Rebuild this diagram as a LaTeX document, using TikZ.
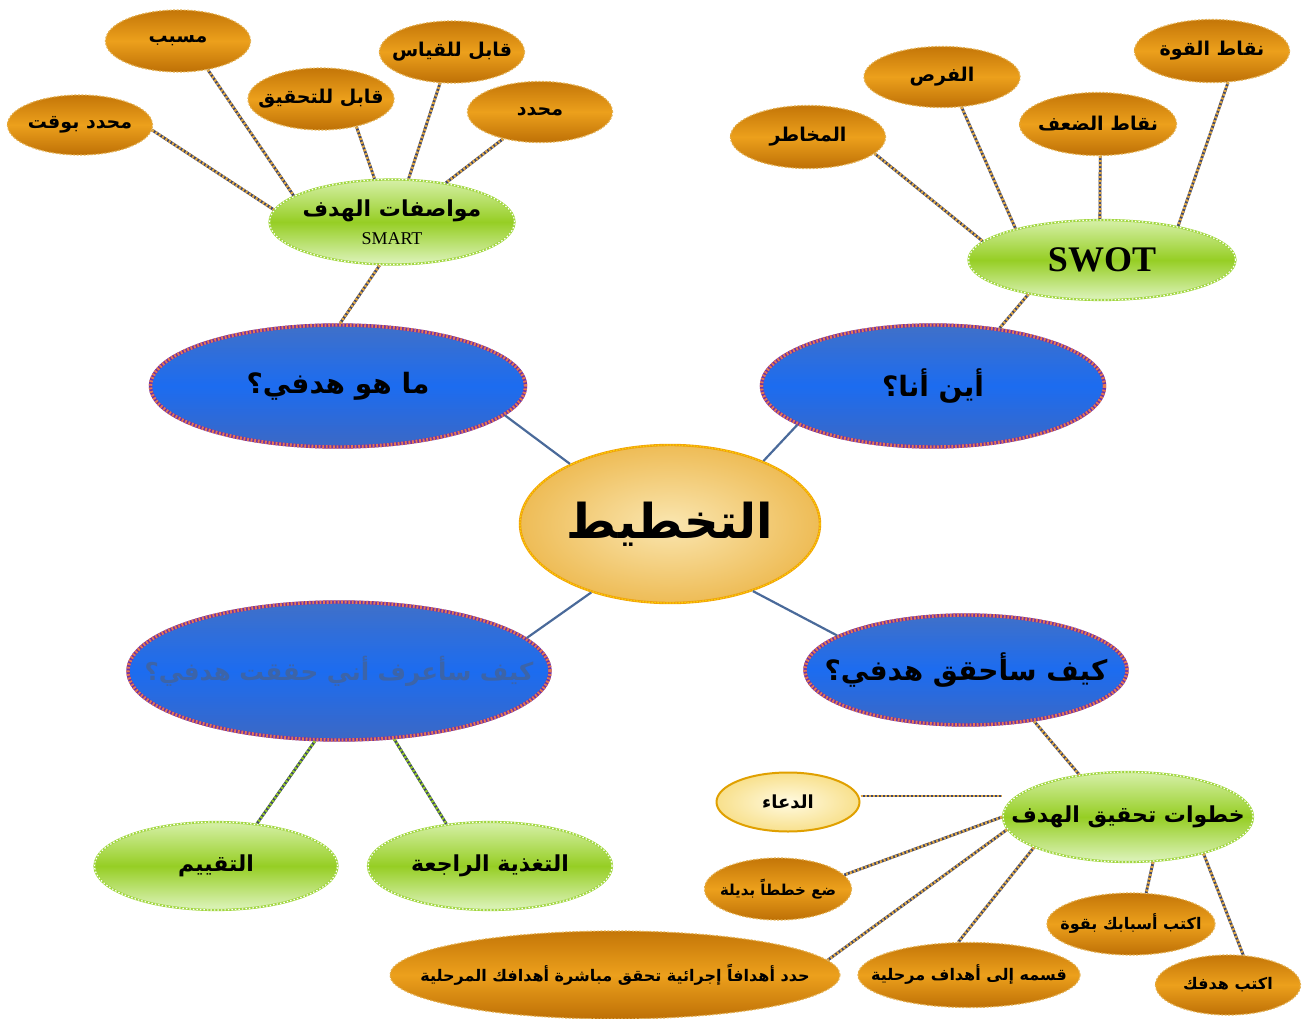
\documentclass[tikz,border=0pt]{standalone}
\usepackage{fontspec}
\usetikzlibrary{shapes.geometric}
\TeXXeTstate=1
\newfontfamily\arabicfont[Script=Arabic]{DejaVu Sans}
\newfontfamily\latinserif{Liberation Serif}
\newcommand\artx[2]{{\fontsize{#1}{#1}\selectfont\arabicfont\bfseries #2}}
\newcommand\zw[1]{\makebox[0pt]{#1}}
\definecolor{orT}{RGB}{196,118,8}
\definecolor{orM}{RGB}{236,160,28}
\definecolor{orB}{RGB}{190,112,6}
\definecolor{orD}{RGB}{228,176,80}
\definecolor{blT}{RGB}{64,112,200}
\definecolor{blM}{RGB}{28,108,240}
\definecolor{blB}{RGB}{60,104,196}
\definecolor{blD}{RGB}{110,50,170}
\definecolor{blO}{RGB}{230,120,80}
\definecolor{grT}{RGB}{214,240,168}
\definecolor{grM}{RGB}{150,206,36}
\definecolor{grB}{RGB}{222,244,190}
\definecolor{grD}{RGB}{160,214,60}
\definecolor{ceI}{RGB}{250,230,176}
\definecolor{ceO}{RGB}{238,188,86}
\definecolor{ceD}{RGB}{240,160,10}
\definecolor{yeO}{RGB}{248,224,140}
\definecolor{yeI}{RGB}{255,250,225}
\definecolor{yeD}{RGB}{224,160,0}
\definecolor{lnA}{RGB}{60,70,110}
\definecolor{lnB}{RGB}{226,170,70}
\definecolor{lnG}{RGB}{150,200,40}
\definecolor{mainln}{RGB}{74,106,154}
\definecolor{dimtxt}{RGB}{60,100,168}
\tikzset{
  orbox/.style={ellipse, inner sep=0pt, top color=orT, bottom color=orB, middle color=orM,
    draw=orD, line width=1.2pt, dash pattern=on 2pt off 1.5pt},
  blbox/.style={ellipse, inner sep=0pt, top color=blT, bottom color=blB, middle color=blM,
    draw=blD, line width=3.4pt, postaction={draw=blO, line width=3.4pt, dash pattern=on 1.8pt off 1.8pt}},
  grbox/.style={ellipse, inner sep=0pt, top color=grT, bottom color=grB, middle color=grM,
    draw=grD, line width=2.2pt, postaction={draw=white, line width=1.2pt, dash pattern=on 1.5pt off 2pt}},
  cebox/.style={ellipse, inner sep=0pt, inner color=ceI, outer color=ceO,
    draw=ceD, line width=2.4pt, postaction={draw=yellow!70!orange, line width=1.2pt, dash pattern=on 1.5pt off 1.5pt}},
  yebox/.style={ellipse, inner sep=0pt, inner color=yeI, outer color=yeO, draw=yeD, line width=2pt},
  link/.style={draw=lnA, line width=2.8pt, postaction={draw=lnB, line width=2.8pt, dash pattern=on 2pt off 2pt}},
  glink/.style={draw=lnA, line width=2.8pt, postaction={draw=lnG, line width=2.8pt, dash pattern=on 2pt off 2pt}},
  mainlink/.style={draw=mainln, line width=2.2pt},
}
\begin{document}
\begin{tikzpicture}[x=1pt,y=-1pt]
\useasboundingbox (0,0) rectangle (1307,1019);
% top-left cluster
\node[orbox, minimum width=145pt, minimum height=62pt] (musabbab) at (178,41) {\zw{\artx{19}{\beginR مسبب\endR}}};
\node[orbox, minimum width=145pt, minimum height=60pt] (bwaqt) at (80,125) {\zw{\artx{19}{\beginR محدد بوقت\endR}}};
\node[orbox, minimum width=146pt, minimum height=62pt] (tahqiq) at (321,99) {\zw{\artx{19}{\beginR قابل للتحقيق\endR}}};
\node[orbox, minimum width=145pt, minimum height=62pt] (qiyas) at (452,52) {\zw{\artx{19}{\beginR قابل للقياس\endR}}};
\node[orbox, minimum width=145pt, minimum height=61pt] (muhaddad) at (540,112) {\zw{\artx{19}{\beginR محدد\endR}}};
\node[grbox, minimum width=245pt, minimum height=85pt, align=center] (smart) at (392,222)
  {\zw{\artx{22}{\beginR مواصفات الهدف\endR}}\\[10pt]\zw{\latinserif\fontsize{18}{18}\selectfont SMART}};
% top-right cluster
\node[orbox, minimum width=155pt, minimum height=63pt] (makhatir) at (808,137) {\zw{\artx{19}{\beginR المخاطر\endR}}};
\node[orbox, minimum width=156pt, minimum height=61pt] (furas) at (942,77) {\zw{\artx{19}{\beginR الفرص\endR}}};
\node[orbox, minimum width=157pt, minimum height=63pt] (daf) at (1098,124) {\zw{\artx{19}{\beginR نقاط الضعف\endR}}};
\node[orbox, minimum width=155pt, minimum height=63pt] (quwwa) at (1212,51) {\zw{\artx{19}{\beginR نقاط القوة\endR}}};
\node[grbox, minimum width=267pt, minimum height=80pt] (swot) at (1102,260) {\zw{\latinserif\bfseries\fontsize{36}{36}\selectfont SWOT}};
% main ring
\node[blbox, minimum width=375pt, minimum height=122pt] (mahuwa) at (338,386) {\zw{\artx{28}{\beginR ما هو هدفي؟\endR}}};
\node[blbox, minimum width=343pt, minimum height=122pt] (ayna) at (933,386) {\zw{\artx{28}{\beginR أين أنا؟\endR}}};
\node[cebox, minimum width=300pt, minimum height=158pt] (plan) at (670,524) {\zw{\artx{48}{\beginR التخطيط\endR}}};
\node[blbox, minimum width=422pt, minimum height=138pt] (arif) at (339,671) {\zw{\textcolor{dimtxt}{\artx{24.5}{\beginR كيف سأعرف أني حققت هدفي؟\endR}}}};
\node[blbox, minimum width=322pt, minimum height=110pt] (ahaqq) at (966,670) {\zw{\artx{28}{\beginR كيف سأحقق هدفي؟\endR}}};
% bottom-left
\node[grbox, minimum width=243pt, minimum height=88pt] (taqyim) at (216,866) {\zw{\artx{22}{\beginR التقييم\endR}}};
\node[grbox, minimum width=244pt, minimum height=88pt] (taghdhiya) at (490,866) {\zw{\artx{22}{\beginR التغذية الراجعة\endR}}};
% bottom-right
\node[grbox, minimum width=250pt, minimum height=90pt] (khutuwat) at (1128,817) {\zw{\artx{22}{\beginR خطوات تحقيق الهدف\endR}}};
\node[yebox, minimum width=143pt, minimum height=59pt] (dua) at (788,802) {\zw{\artx{18}{\beginR الدعاء\endR}}};
\node[orbox, minimum width=147pt, minimum height=62pt] (bad) at (778,889) {\zw{\artx{15}{\beginR ضع خططاً بديلة\endR}}};
\node[orbox, minimum width=450pt, minimum height=88pt] (hadd) at (615,975) {\zw{\artx{16}{\beginR حدد أهدافاً إجرائية تحقق مباشرة أهدافك المرحلية\endR}}};
\node[orbox, minimum width=222pt, minimum height=65pt] (qassim) at (969,975) {\zw{\artx{16}{\beginR قسمه إلى أهداف مرحلية\endR}}};
\node[orbox, minimum width=168pt, minimum height=62pt] (asbab) at (1131,924) {\zw{\artx{16}{\beginR اكتب أسبابك بقوة\endR}}};
\node[orbox, minimum width=145pt, minimum height=60pt] (hadafak) at (1228,985) {\zw{\artx{16}{\beginR اكتب هدفك\endR}}};
% connectors
\draw[link] (bwaqt.-4) -- (smart.174);
\draw[link] (musabbab.-44) -- (smart.165);
\draw[link] (tahqiq.-38) -- (smart.112);
\draw[link] (qiyas.-111) -- (smart.69);
\draw[link] (muhaddad.-144) -- (smart.36);
\draw[link] (smart.-106) -- (mahuwa.88);
\draw[link] (makhatir.-14) -- (swot.171);
\draw[link] (furas.-57) -- (swot.160);
\draw[link] (daf.-86) -- (swot.93);
\draw[link] (quwwa.-63) -- (swot.24);
\draw[link] (swot.-155) -- (ayna.41);
\draw[mainlink] (mahuwa.-10) -- (plan.149);
\draw[mainlink] (ayna.196) -- (plan.34);
\draw[mainlink] (plan.-139) -- (arif.10);
\draw[mainlink] (plan.-39) -- (ahaqq.165);
\draw[glink] (arif.-109) -- (taqyim.46);
\draw[glink] (arif.-51) -- (taghdhiya.136);
\draw[link] (ahaqq.-37) -- (khutuwat.139);
\draw[link] (dua.east |- 0,796) -- (khutuwat.west |- 0,796);
\draw[link] (khutuwat.180) -- (bad.12);
\draw[link] (khutuwat.-174) -- (hadd.4);
\draw[link] (khutuwat.-162) -- (qassim.108);
\draw[link] (khutuwat.-61) -- (asbab.64);
\draw[link] (khutuwat.-26) -- (hadafak.63);
\end{tikzpicture}
\end{document}
